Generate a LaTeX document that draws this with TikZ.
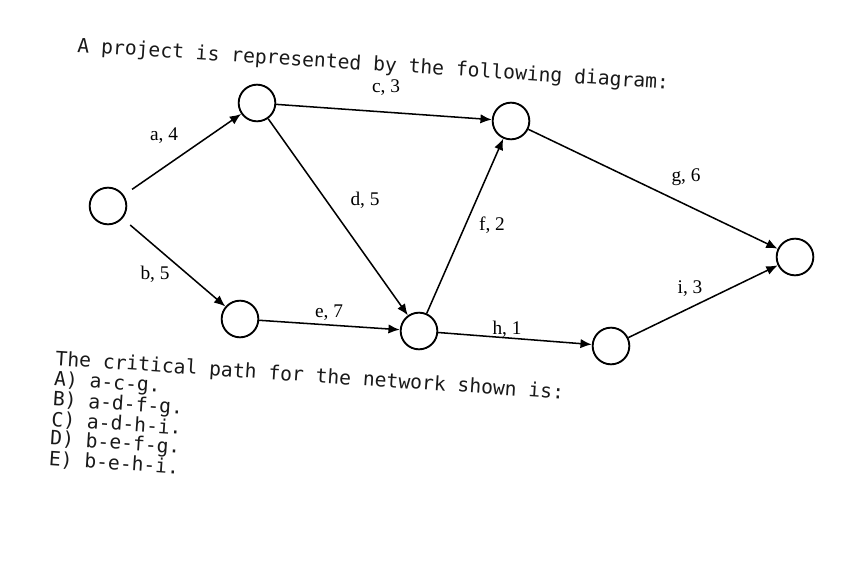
\documentclass[tikz,border=0pt]{standalone}
\usepackage{fontspec}
\setmainfont{Liberation Serif}
\newfontfamily\qfont{DejaVu Sans Mono}
\usetikzlibrary{arrows.meta}

\begin{document}
\begin{tikzpicture}[x=0.03cm, y=-0.03cm,
	event/.style={circle, draw, line width=1.6pt, minimum size=1.1cm, inner sep=0pt},
	act/.style={-{Latex[length=3.4mm,width=2.8mm]}, line width=1.3pt},
	lbl/.style={font=\fontsize{16.5}{16.5}\selectfont, inner sep=0pt},
	txt/.style={font=\qfont\fontsize{16.8}{16.2}\selectfont, text=black!90, inner sep=0pt, align=left}]
	\useasboundingbox (0,0) rectangle (866,564);
	
	\node[event] (e1) at (108,206) {};
	\node[event] (e2) at (257,103) {};
	\node[event] (e3) at (511,121) {};
	\node[event] (e4) at (240,319) {};
	\node[event] (e5) at (419,331) {};
	\node[event] (e6) at (611,346) {};
	\node[event] (e7) at (795,257) {};
	
	\draw[act, shorten <=0.3cm] (e1) -- (e2);
	\draw[act, shorten <=0.3cm] (e1) -- (e4);
	\foreach \s/\t in {e2/e3, e2/e5, e4/e5, e5/e3, e3/e7, e5/e6, e6/e7} {
		\draw[act] (\s) -- (\t);
	}
	
	\node[lbl] (la) at (164,136) {a, 4};
	\node[lbl] (lb) at (155,274) {b, 5};
	\node[lbl] (lc) at (386,88) {c, 3};
	\node[lbl] (ld) at (365,200) {d, 5};
	\node[lbl] (le) at (329,313) {e, 7};
	\node[lbl] (lf) at (492,225) {f, 2};
	\node[lbl] (lg) at (686,177) {g, 6};
	\node[lbl] (lh) at (507,329) {h, 1};
	\node[lbl] (li) at (690,289) {i, 3};
	
	\node[txt, anchor=base west, rotate=-3.6] (title) at (77,52) {A project is represented by the following diagram:};
	\node[txt, anchor=north west, rotate=-3.8] (quest) at (56,350) {The critical path for the network shown is:\\
		A) a-c-g.\\
		B) a-d-f-g.\\
		C) a-d-h-i.\\
		D) b-e-f-g.\\
		E) b-e-h-i.};
\end{tikzpicture}
\end{document}
